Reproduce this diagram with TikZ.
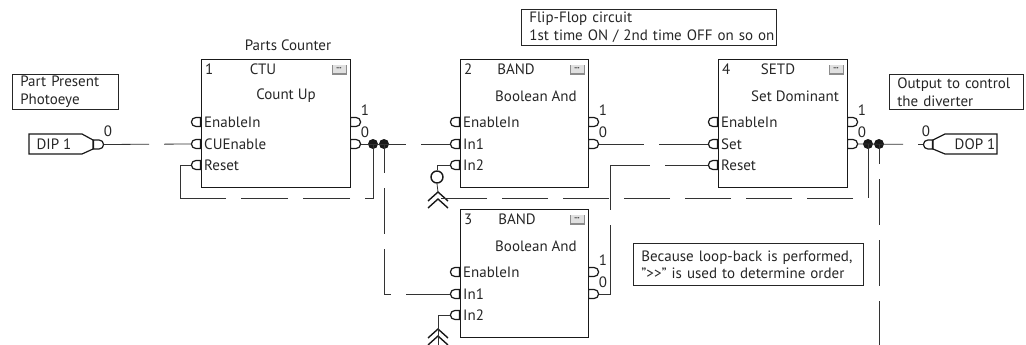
\documentclass[tikz,border=0pt]{standalone}
\usepackage{fontspec}
\setmainfont{PT Sans}
\usetikzlibrary{arrows.meta,positioning,shapes.misc}

\begin{document}
\begin{tikzpicture}[
  x=1pt, y=-1pt,
  every node/.style={font=\fontsize{15}{18}\selectfont, text=black!85, inner sep=0pt},
  blockbox/.style={draw=black!90, line width=1.4pt, anchor=north west, minimum height=128pt},
  note/.style={draw=black!85, line width=0.7pt, anchor=north west, align=left, text width=#1, inner xsep=8pt, inner ysep=0pt, minimum height=35pt},
  inport/.style={draw=black!90, line width=1.2pt, fill=white, rounded rectangle, rounded rectangle right arc=none, minimum width=9pt, minimum height=9pt, anchor=east},
  outport/.style={draw=black!90, line width=1.2pt, fill=white, rounded rectangle, rounded rectangle left arc=none, minimum width=10pt, minimum height=9pt, anchor=west},
  dot/.style={circle, fill=black!90, minimum size=10pt},
  button/.style={fill=black!12, minimum width=13pt, minimum height=8pt, font=\fontsize{4}{4}\selectfont, text=black},
  wire/.style={draw=black!80, line width=0.8pt},
  gapwire/.style={wire, dash pattern=on 45pt off 15pt on 100pt},
  chevron/.style={draw=black!90, line width=1.4pt}
]
\useasboundingbox (0,0) rectangle (1026,345);

% function blocks
\foreach \n/\blk/\xl/\xr/\yt/\xt/\xd/\kind/\desc/\pa/\pb in {
  1/b1/201/350/59/263/286/CTU/Count Up/CUEnable/Reset,
  2/b2/460/588/59/516/536/BAND/Boolean And/In1/In2,
  4/b4/718/847/59/778/795/SETD/Set Dominant/Set/Reset,
  3/b3/460/588/209/517/536/BAND/Boolean And/In1/In2} {
  \node[blockbox, minimum width={\xr-\xl}] (\blk) at (\xl,\yt) {};
  \node[anchor=west] (\blk num) at (\xl+4,\yt+10) {\n};
  \node (\blk kind) at (\xt,\yt+10) {\kind};
  \node (\blk desc) at (\xd,\yt+37) {\desc};
  \fill[black!45] (\xr-18,\yt+6) rectangle (\xr-3,\yt+16);
  \node[button] (\blk btn) at (\xr-11,\yt+10) {•••};
  \node[inport] (\blk en) at (\xl,\yt+63) {};
  \node[inport] (\blk a) at (\xl,\yt+85) {};
  \node[inport] (\blk b) at (\xl,\yt+106) {};
  \node[anchor=west] (\blk enl) at (\xl+3,\yt+63) {EnableIn};
  \node[anchor=west] (\blk al) at (\xl+3,\yt+85) {\pa};
  \node[anchor=west] (\blk bl) at (\xl+3,\yt+106) {\pb};
  \node[outport] (\blk hi) at (\xr,\yt+63) {};
  \node[outport] (\blk lo) at (\xr,\yt+85) {};
  \node (\blk one) at (\xr+15,\yt+51) {1};
  \node (\blk zero) at (\xr+15,\yt+73) {0};
}

% captions
\node (cntcap) at (288,45) {Parts Counter};
\node[note=90pt] (partnote) at (12,74) {Part Present\\Photoeye};
\node[note=239pt, minimum height=36pt] (flipnote) at (521,9) {Flip-Flop circuit\\\mbox{1st time ON / 2nd time OFF on so on}};
\node[note=118pt] (outnote) at (889,74) {Output to control\\the diverter};
\node[note=214pt, minimum height=42pt, font=\fontsize{15}{17}\selectfont] (loopnote) at (633,243) {Because loop-back is performed,\\"{>}{>}" is used to determine order};

% input and output tags
\draw[line width=1.2pt, draw=black!90] (29,134) -- (82,134) -- (93,140) -- (93,149) -- (82,154) -- (29,154) -- cycle;
\node (dip) at (54,144) {DIP 1};
\node[outport] (dipout) at (93,144.5) {};
\node (dipzero) at (108,131) {0};
\draw[line width=1.2pt, draw=black!90] (997,134) -- (945,134) -- (933,140) -- (933,149) -- (945,154) -- (997,154) -- cycle;
\node (dop) at (975,144) {DOP 1};
\node[inport] (dopin) at (933,144.5) {};
\node (dopzero) at (926,131) {0};

% junctions
\node[dot] (j1a) at (373,144) {};
\node[dot] (j1b) at (384,144) {};
\node[dot] (j4a) at (868,144) {};
\node[dot] (j4b) at (879,144) {};

% free ends
\coordinate (resetc) at (180,198);
\coordinate (fbcorner) at (868,198);
\coordinate (in2b) at (438,345);
\coordinate (rtop) at (610,165);
\coordinate (j4end) at (879,345);

% reference markers
\node[circle, draw=black!90, line width=1.4pt, minimum size=12pt] (inv) at (437,177) {};
\coordinate (chv) at (438,192);
\draw[chevron] (428,201) -- (438,192) -- (448,201);
\draw[chevron] (428,208) -- (438,199) -- (448,208);
\draw[chevron] (428,338) -- (438,329) -- (448,338);
\draw[chevron] (428,345) -- (438,336) -- (448,345);

% wires
\draw[gapwire] (dipout.east) -- (b1a.west);
\draw[gapwire] (b1lo.east) -- (b2a.west);
\draw[gapwire] (b2lo.east) -- (b4a.west);
\draw[gapwire] (b4lo.east) -- (dopin.west);
\draw[wire, dash pattern=on 62pt off 15pt on 47pt off 15pt on 47pt off 15pt on 100pt] (j1a.center) |- (resetc) |- (b1b.west);
\draw[wire, dash pattern=on 29pt off 15pt on 46pt off 15pt on 52pt off 15pt on 100pt] (j1b.center) |- (b3a.west);
\draw[wire, dash pattern=on 80pt off 15pt on 85pt off 15pt on 100pt] (b3lo.east) -| (rtop) -- (b4b.west);
\draw[wire] (j4a.center) -- (fbcorner);
\draw[wire, dash pattern=on 46pt off 15pt, dash phase=46pt] (fbcorner) -- (chv |- fbcorner);
\draw[wire, dash pattern=on 46pt off 15pt, dash phase=26pt] (j4b.center) -- (j4end);
\draw[wire] (b2b.west) -| (inv.north);
\draw[wire] (inv.south) -- (chv);
\draw[wire] (b3b.west) -| (in2b);
\end{tikzpicture}
\end{document}
